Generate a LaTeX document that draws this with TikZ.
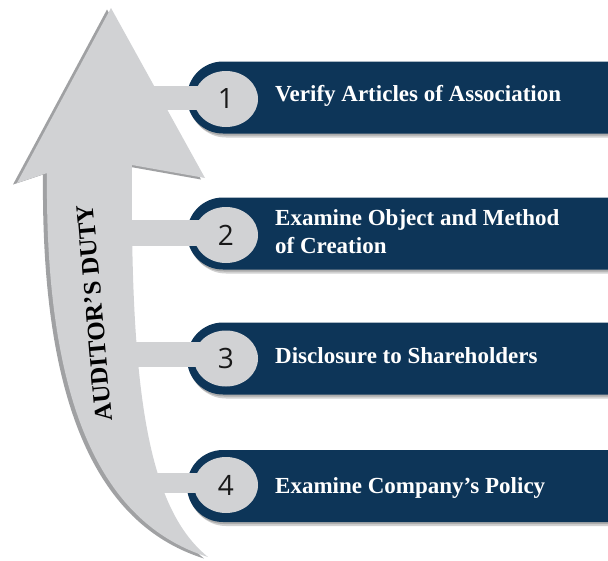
\documentclass[tikz,border=0pt]{standalone}
\usepackage{fontspec}
\setmainfont{Liberation Serif}
\newfontfamily\numfont{Open Sans}
\usetikzlibrary{shapes.geometric}
\definecolor{navy}{HTML}{0D3558}
\definecolor{lgray}{HTML}{D1D2D4}
\definecolor{sgray}{HTML}{A0A1A3}
\newcommand\pillshape[1]{(610,#1-36) -- (223,#1-36) arc[start angle=270,end angle=90,radius=36] -- (610,#1+36) -- cycle}
\newcommand\arrowshape{(111,8) -- (205,178) -- (132,165) .. controls (130,400) and (150,510) .. (208,557) .. controls (90,520) and (45,380) .. (47,173) -- (17,183) -- cycle}
\begin{document}
\begin{tikzpicture}[x=1pt,y=-1pt,
  pill/.style={fill=navy},
  pillshadow/.style={fill=black,opacity=0.18},
  num/.style={ellipse, fill=lgray, minimum width=64pt, minimum height=56pt, inner sep=0pt,
    font=\numfont\fontsize{28}{28}\selectfont, text=black!90},
  label/.style={text=white, font=\bfseries\fontsize{23}{28}\selectfont, align=left, inner sep=0pt},
  bar/.style={draw=lgray, line width=#1},
  side/.style={font=\bfseries\fontsize{25}{25}\selectfont, text=black, inner sep=0pt}
]
\useasboundingbox (0,0) rectangle (608,560);
% pills with shadows
\foreach \c in {97.5,233.5,358.5,486}{
  \fill[pillshadow, shift={(1,2)}] \pillshape{\c};
  \fill[pillshadow, shift={(3,4)}] \pillshape{\c};
  \fill[pill] \pillshape{\c};
}
% arrow
\fill[sgray, shift={(-4,1.5)}] \arrowshape;
\fill[lgray] \arrowshape;
% number circles
\node[num] (n1) at (226,99) {1};
\node[num] (n2) at (226,235) {2};
\node[num] (n3) at (226,358.5) {3};
\node[num] (n4) at (226,485) {4};
% connector bars
\coordinate (s1) at (150,98);
\coordinate (s2) at (120,233);
\coordinate (s3) at (125,354.5);
\coordinate (s4) at (140,482.5);
\draw[bar=24pt] (s1) -- ([xshift=7pt]s1 -| n1.west);
\draw[bar=26pt] (s2) -- ([xshift=7pt]s2 -| n2.west);
\draw[bar=25pt] (s3) -- ([xshift=7pt]s3 -| n3.west);
\draw[bar=20pt] (s4) -- ([xshift=7pt]s4 -| n4.west);
% labels
\node[label, anchor=base west] (t1) at (275,101) {Verify Articles of Association};
\node[label, anchor=west] (t2) at (275,231.5) {Examine Object and Method\\of Creation};
\node[label, anchor=base west] (t3) at (275,363) {Disclosure to Shareholders};
\node[label, anchor=base west] (t4) at (275,493) {Examine Company’s Policy};
% side text
\node[side, rotate=95] (duty) at (94.5,313) {AUDITOR’S DUTY};
\end{tikzpicture}
\end{document}
